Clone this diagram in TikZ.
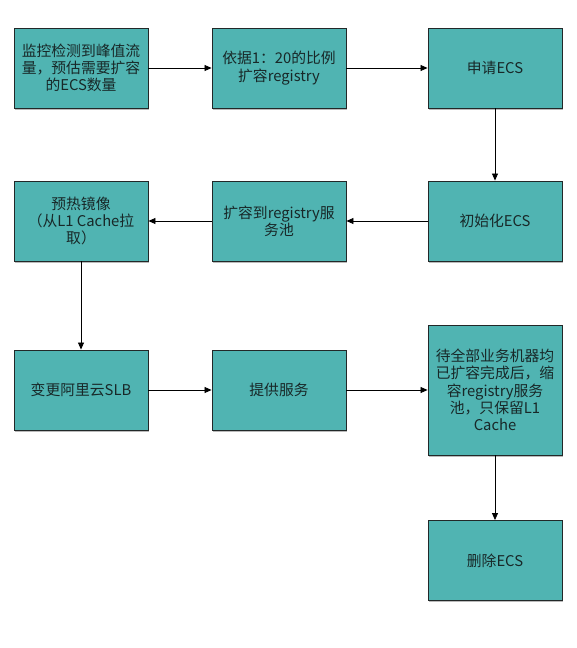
\documentclass[tikz,border=0pt]{standalone}
\usepackage{fontspec}
\setmainfont{Noto Sans CJK SC}
\usetikzlibrary{arrows.meta,shadows}
\definecolor{boxfill}{RGB}{80,180,178}
\definecolor{boxline}{RGB}{34,40,40}
\definecolor{boxtext}{RGB}{24,40,40}
\begin{document}
\begin{tikzpicture}[x=1pt,y=-1pt,
  stepbox/.style={draw=boxline,line width=0.9pt,fill=boxfill,minimum width=134pt,minimum height=80pt,
    inner sep=0pt,align=center,text=boxtext,font=\fontsize{14.8pt}{17.3pt}\selectfont,
    drop shadow={shadow xshift=1.2pt,shadow yshift=-1.5pt,opacity=0.45,fill=black!60}},
  conn/.style={draw=black,line width=0.8pt,-{Triangle[length=7pt,width=6pt]}}]
\useasboundingbox[fill=white] (0,0) rectangle (576,648);
\node[stepbox] (a) at (81,68) {监控检测到峰值流\\量，预估需要扩容\\的ECS数量};
\node[stepbox] (b) at (279,68) {依据1：20的比例\\扩容registry};
\node[stepbox] (c) at (495,68) {申请ECS};
\node[stepbox] (f) at (495,221) {初始化ECS};
\node[stepbox] (e) at (279,221) {扩容到registry服\\务池};
\node[stepbox] (d) at (81,221) {预热镜像\\（从L1 Cache拉\\取）};
\node[stepbox] (g) at (81,390) {变更阿里云SLB};
\node[stepbox] (h) at (279,390) {提供服务};
\node[stepbox,minimum height=130pt] (i) at (495,390) {待全部业务机器均\\已扩容完成后，缩\\容registry服务\\池，只保留L1\\Cache};
\node[stepbox] (j) at (495,560.5) {删除ECS};
\draw[conn] (a) -- (b);
\draw[conn] (b) -- (c);
\draw[conn] (c) -- (f);
\draw[conn] (f) -- (e);
\draw[conn] (e) -- (d);
\draw[conn] (d) -- (g);
\draw[conn] (g) -- (h);
\draw[conn] (h) -- (i);
\draw[conn] (i) -- (j);
\end{tikzpicture}
\end{document}
